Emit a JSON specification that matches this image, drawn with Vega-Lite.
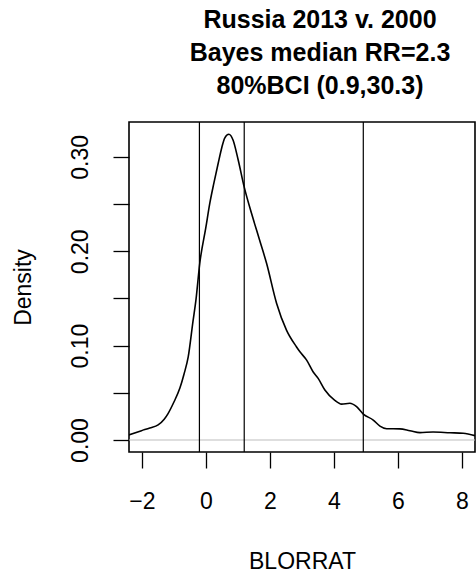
{
  "$schema": "https://vega.github.io/schema/vega-lite/v6.json",
  "width": 346,
  "height": 330,
  "autosize": {"type": "none"},
  "padding": {"left": 129, "top": 122, "right": 1, "bottom": 120},
  "background": "white",
  "config": {
    "font": "Liberation Sans",
    "view": {"stroke": "black", "strokeWidth": 1.6},
    "axis": {"grid": false, "domain": false, "tickColor": "black", "tickWidth": 1.3, "tickSize": 16, "labelColor": "black", "titleColor": "black", "labelFont": "Liberation Sans", "titleFont": "Liberation Sans", "labelFontSize": 23, "titleFontSize": 23, "titleFontWeight": "normal"}
  },
  "title": {
    "text": ["Russia 2013 v. 2000", "Bayes median RR=2.3", "80%BCI (0.9,30.3)"],
    "font": "Liberation Sans",
    "fontSize": 25,
    "fontWeight": "bold",
    "lineHeight": 33,
    "color": "black",
    "anchor": "middle",
    "dx": 18,
    "offset": 22
  },
  "datasets": {
    "curve": [
      {"x": -2.41, "y": 0.0053},
      {"x": -2.01, "y": 0.0099},
      {"x": -1.75, "y": 0.0128},
      {"x": -1.49, "y": 0.016},
      {"x": -1.3, "y": 0.022},
      {"x": -1.18, "y": 0.028},
      {"x": -1.0, "y": 0.04},
      {"x": -0.81, "y": 0.055},
      {"x": -0.68, "y": 0.07},
      {"x": -0.55, "y": 0.088},
      {"x": -0.4, "y": 0.126},
      {"x": -0.31, "y": 0.148},
      {"x": -0.19, "y": 0.187},
      {"x": 0.0, "y": 0.225},
      {"x": 0.125, "y": 0.251},
      {"x": 0.25, "y": 0.272},
      {"x": 0.385, "y": 0.293},
      {"x": 0.5, "y": 0.31},
      {"x": 0.59, "y": 0.32},
      {"x": 0.72, "y": 0.324},
      {"x": 0.85, "y": 0.318},
      {"x": 1.01, "y": 0.297},
      {"x": 1.2, "y": 0.268},
      {"x": 1.43, "y": 0.24},
      {"x": 1.67, "y": 0.213},
      {"x": 1.9, "y": 0.187},
      {"x": 2.21, "y": 0.145},
      {"x": 2.52, "y": 0.1165},
      {"x": 2.83, "y": 0.0989},
      {"x": 2.94, "y": 0.0935},
      {"x": 3.15, "y": 0.0847},
      {"x": 3.35, "y": 0.0724},
      {"x": 3.51, "y": 0.0653},
      {"x": 3.72, "y": 0.053},
      {"x": 4.03, "y": 0.042},
      {"x": 4.24, "y": 0.038},
      {"x": 4.5, "y": 0.0389},
      {"x": 4.71, "y": 0.0353},
      {"x": 4.92, "y": 0.0275},
      {"x": 5.23, "y": 0.0212},
      {"x": 5.44, "y": 0.0148},
      {"x": 5.65, "y": 0.012},
      {"x": 6.06, "y": 0.0118},
      {"x": 6.375, "y": 0.0099},
      {"x": 6.69, "y": 0.0078},
      {"x": 7.1, "y": 0.0085},
      {"x": 7.63, "y": 0.0077},
      {"x": 8.04, "y": 0.0071},
      {"x": 8.41, "y": 0.0046}
    ],
    "vlines": [
      {"x": -0.2},
      {"x": 1.2},
      {"x": 4.92}
    ],
    "hline": [
      {"y": 0}
    ]
  },
  "layer": [
    {
      "data": {"name": "hline"},
      "mark": {"type": "rule", "color": "#bebebe", "strokeWidth": 1.2},
      "encoding": {
        "y": {"field": "y", "type": "quantitative", "scale": {"domain": [-0.0127, 0.337], "nice": false, "zero": false}}
      }
    },
    {
      "data": {"name": "vlines"},
      "mark": {"type": "rule", "color": "black", "strokeWidth": 1.2},
      "encoding": {
        "x": {"field": "x", "type": "quantitative", "scale": {"domain": [-2.4, 8.41], "nice": false, "zero": false}}
      }
    },
    {
      "data": {"name": "curve"},
      "mark": {"type": "line", "color": "black", "strokeWidth": 1.6, "interpolate": "monotone", "clip": true},
      "encoding": {
        "x": {
          "field": "x", "type": "quantitative",
          "scale": {"domain": [-2.4, 8.41], "nice": false, "zero": false},
          "axis": {"title": "BLORRAT", "values": [-2, 0, 2, 4, 6, 8], "format": "d", "labelPadding": 22, "titlePadding": 37, "labelFlush": false, "labelOverlap": false}
        },
        "y": {
          "field": "y", "type": "quantitative",
          "scale": {"domain": [-0.0127, 0.337], "nice": false, "zero": false},
          "axis": {"title": "Density", "values": [0, 0.05, 0.1, 0.15, 0.2, 0.25, 0.3], "labelExpr": "round(datum.value*100) % 10 == 0 ? format(datum.value, '.2f') : ''", "labelAngle": -90, "labelAlign": "center", "labelBaseline": "bottom", "labelPadding": 21, "titlePadding": 34, "labelFlush": false, "labelOverlap": false}
        }
      }
    }
  ]
}
